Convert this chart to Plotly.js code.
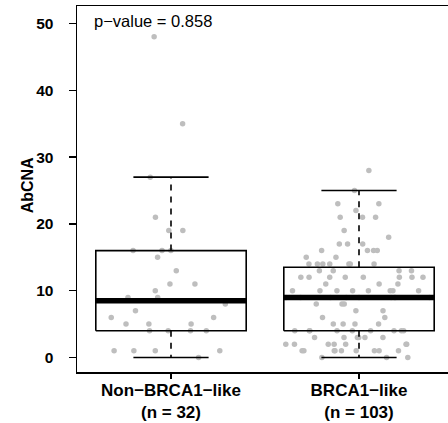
<!DOCTYPE html>
<html><head><meta charset="utf-8">
<script src="https://cdn.plot.ly/plotly-3.0.1.min.js"></script>
<style>html,body{margin:0;padding:0;background:#fff;} #chart{width:448px;height:423px;}</style>
</head><body><div id="chart"></div>
<script>
// ---- data ----
const categories = ["Non\u2212BRCA1\u2212like", "BRCA1\u2212like"];
const nonBrca1Values = [48, 35, 27, 21, 19, 19, 16, 16, 16, 15, 13, 11, 11, 10, 9, 9, 8, 7, 6, 6,
  5, 5, 5, 4, 4, 4, 4, 1, 1, 1, 1, 0];
const brca1Values = [28, 25, 23, 23, 22, 21, 21, 21, 19, 18, 17, 17, 17, 16, 16, 16, 16, 15, 15,
  14, 14, 14, 14, 14, 14, 14, 13, 13, 13, 13, 12, 12, 12, 12, 12, 12, 12, 12, 11, 11, 11,
  10, 10, 10, 10, 10, 10, 10, 10, 9, 9, 9, 9, 9, 9, 9, 9, 9, 8, 8, 8, 7, 7, 6, 6, 5, 5, 5, 5,
  4, 4, 4, 4, 4, 4, 4, 4, 4, 3, 3, 3, 3, 3, 3, 2, 2, 2, 2, 2, 2, 2, 1, 1, 1, 1, 1, 1, 1, 1, 1, 0, 0, 0];
const pValueLabel = "p\u2212value = 0.858";
const yAxisLabel = "AbCNA";
const yTickValues = [0, 10, 20, 30, 40, 50];

// ---- R-style boxplot statistics (Tukey hinges) ----
function fivenum(arr) {
  const x = arr.slice().sort((a, b) => a - b);
  const n = x.length;
  const n4 = Math.floor((n + 3) / 2) / 2;
  const d = [1, n4, (n + 1) / 2, n + 1 - n4, n];
  return d.map(p => 0.5 * (x[Math.floor(p) - 1] + x[Math.ceil(p) - 1]));
}
function boxStats(arr) {
  const f = fivenum(arr);
  const iqr = f[3] - f[1];
  const hi = Math.max(...arr.filter(v => v <= f[3] + 1.5 * iqr));
  const lo = Math.min(...arr.filter(v => v >= f[1] - 1.5 * iqr));
  return {q1: f[1], med: f[2], q3: f[3], lo: lo, hi: hi};
}

const groups = [nonBrca1Values, brca1Values];
const boxHalf = 0.4, stapleHalf = 0.2;
const traces = [];

groups.forEach((vals, i) => {
  traces.push({
    type: 'box', x0: i + 1, y: vals, boxpoints: 'all', jitter: 1, pointpos: 0,
    width: 2 * boxHalf, line: {width: 0, color: 'rgba(0,0,0,0)'}, fillcolor: 'rgba(0,0,0,0)',
    marker: {color: '#BEBEBE', size: 5.5, line: {width: 0}}, hoverinfo: 'skip', showlegend: false
  });
});

groups.forEach((vals, i) => {
  const c = i + 1;
  const s = boxStats(vals);
  const base = {type: 'scatter', mode: 'lines', hoverinfo: 'skip', showlegend: false};
  traces.push(Object.assign({}, base, {
    x: [c, c, null, c, c], y: [s.q3, s.hi, null, s.q1, s.lo],
    line: {color: '#000', width: 1.6, dash: '6px,6px'}
  }));
  traces.push(Object.assign({}, base, {
    x: [c - stapleHalf, c + stapleHalf, null, c - stapleHalf, c + stapleHalf],
    y: [s.hi, s.hi, null, s.lo, s.lo],
    line: {color: '#000', width: 1.7}
  }));
  traces.push(Object.assign({}, base, {
    x: [c - boxHalf, c + boxHalf, c + boxHalf, c - boxHalf, c - boxHalf],
    y: [s.q1, s.q1, s.q3, s.q3, s.q1],
    line: {color: '#000', width: 1.6}
  }));
  traces.push(Object.assign({}, base, {
    x: [c - boxHalf, c + boxHalf], y: [s.med, s.med],
    line: {color: '#000', width: 5.5}
  }));
});

const tickText = categories.map((name, i) => name + "<br>(n = " + groups[i].length + ")");

const layout = {
  width: 448, height: 423,
  margin: {l: 77, r: 0, t: 6, b: 51, pad: 0},
  paper_bgcolor: '#ffffff', plot_bgcolor: '#ffffff',
  showlegend: false, boxmode: 'overlay',
  font: {family: 'Liberation Sans, Arial, sans-serif', color: '#000'},
  xaxis: {
    type: 'linear', range: [0.5, 0.5 + 371 / 188],
    tickvals: [1, 2], ticktext: tickText,
    ticks: 'outside', ticklen: 5, tickwidth: 1.5, tickcolor: '#000',
    showline: true, linewidth: 1.5, linecolor: '#000', mirror: true,
    showgrid: false, zeroline: false,
    ticklabelstandoff: -3,
    tickfont: {size: 17, weight: 'bold'}
  },
  yaxis: {
    range: [-2.17, 52.62], tickvals: yTickValues,
    ticks: 'outside', ticklen: 7, tickwidth: 1.5, tickcolor: '#000',
    showline: true, linewidth: 1.5, linecolor: '#000', mirror: false,
    showgrid: false, zeroline: false,
    ticklabelstandoff: 12,
    tickfont: {size: 15.5, weight: 'bold'}
  },
  annotations: [{
    xref: 'paper', yref: 'paper', x: 0.04, y: 0.958, xanchor: 'left', yanchor: 'middle',
    text: pValueLabel, showarrow: false, font: {size: 16.5, color: '#000'}
  }, {
    xref: 'paper', yref: 'paper', x: -0.131, y: 0.511, xanchor: 'center', yanchor: 'middle',
    textangle: -90, text: yAxisLabel, showarrow: false, font: {size: 16, weight: 'bold', color: '#000'}
  }]
};

Plotly.newPlot('chart', traces, layout, {staticPlot: true, displayModeBar: false});
</script>
</body></html>
